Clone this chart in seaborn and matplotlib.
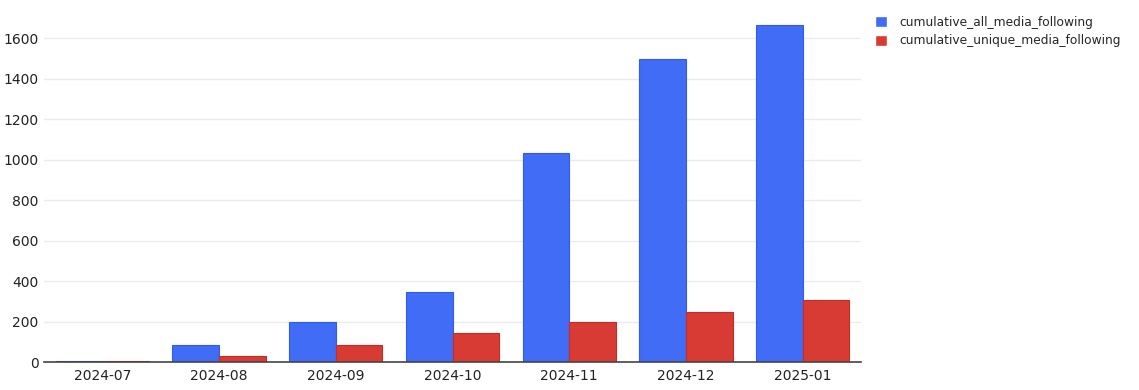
import pandas as pd
import matplotlib.pyplot as plt
import seaborn as sns

# --- Data ---
months = ["2024-07", "2024-08", "2024-09", "2024-10", "2024-11", "2024-12", "2025-01"]
all_media = [5, 84, 198, 346, 1032, 1496, 1664]
unique_media = [4, 30, 84, 143, 198, 247, 306]

df = pd.DataFrame({
    "month": months,
    "cumulative_all_media_following": all_media,
    "cumulative_unique_media_following": unique_media,
})
long_df = df.melt(id_vars="month", var_name="series", value_name="count")

# --- Setup ---
sns.set_theme(style="white")
plt.rcParams["font.family"] = ["DejaVu Sans"]

fig = plt.figure(figsize=(11.39, 3.9), dpi=100)
ax = fig.add_axes([44 / 1139, 1 - 362 / 390, (861 - 44) / 1139, (362 - 8) / 390])

palette = {"cumulative_all_media_following": "#416CF5",
           "cumulative_unique_media_following": "#D83B33"}
sns.barplot(data=long_df, x="month", y="count", hue="series", palette=palette,
            order=months, width=0.8, ax=ax, saturation=1, legend=True)
for bar, edge in zip(ax.patches, ["#2E5CF0"] * 7 + ["#C92A22"] * 7):
    bar.set_edgecolor(edge)
    bar.set_linewidth(0.8)

ax.set_ylim(0, 1750)
ax.set_xlim(-0.5, 6.5)
ax.set_yticks(range(0, 1601, 200))
ax.yaxis.grid(True, color="#EBEBEB", linewidth=1)
ax.set_axisbelow(True)
ax.set_xlabel("")
ax.set_ylabel("")
for side in ["top", "right", "left"]:
    ax.spines[side].set_visible(False)
ax.spines["bottom"].set_color("#444444")
ax.spines["bottom"].set_linewidth(1.2)
ax.tick_params(axis="both", length=0, labelsize=10, colors="#222222")
ax.tick_params(axis="y", pad=4)
ax.tick_params(axis="x", pad=5)

handles, labels = ax.get_legend_handles_labels()
ax.get_legend().remove()
fig.legend(handles, labels, loc="upper left", bbox_to_anchor=(864 / 1139, 1 - 5 / 390),
           frameon=False, fontsize=8.8, handlelength=1.0, handleheight=1.0,
           handletextpad=1.0, labelspacing=0.45)

fig.savefig("out.png", dpi=100)
plt.close()
